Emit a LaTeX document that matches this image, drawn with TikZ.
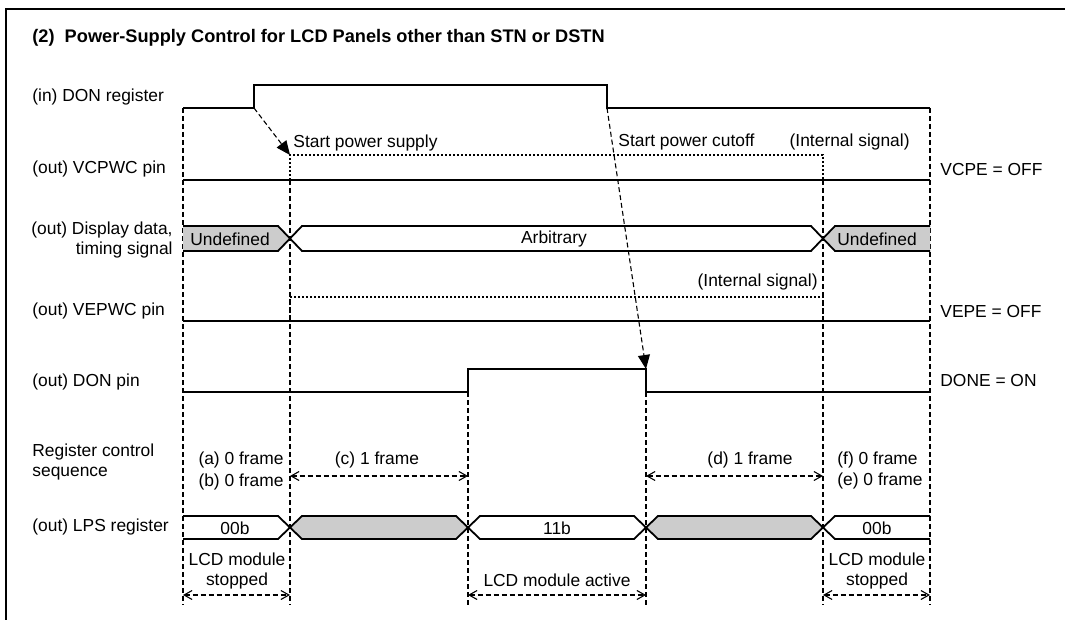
\documentclass[tikz,border=0pt]{standalone}
\usepackage{fontspec}
\setmainfont{Liberation Sans}
\usetikzlibrary{arrows.meta}
\definecolor{busgray}{HTML}{CCCCCC}

\begin{document}
\begin{tikzpicture}[x=0.5pt, y=-0.5pt,
  lbl/.style={font=\fontsize{8.7}{10}\selectfont, inner sep=0pt},
  sig/.style={line width=0.9pt, line join=miter},
  guide/.style={line width=0.55pt, dash pattern=on 2.5pt off 1.5pt},
  intsig/.style={line width=1.2pt, dash pattern=on 1pt off 1pt},
  cause/.style={guide, -{Triangle[length=7pt, width=6pt]}},
  span/.style={guide, {Straight Barb[length=4pt, width=4.5pt]}-{Straight Barb[length=4pt, width=4.5pt]}},
  frameline/.style={line width=1pt}]
  \useasboundingbox (0,0) rectangle (1065,620);
  \draw[frameline] (6,620) -- (6,9) -- (1065,9);

  % title and row names
  \node[lbl, anchor=west, font=\fontsize{9.1}{10}\selectfont\bfseries] (title) at (32,38) {(2)\ \ Power-Supply Control for LCD Panels other than STN or DSTN};
  \node[lbl, anchor=west] (rdonreg) at (32,97) {(in) DON register};
  \node[lbl, anchor=west] (rvcpwc) at (32,169) {(out) VCPWC pin};
  \node[lbl, anchor=east, align=right] (rdisp) at (173,240) {(out) Display data,\\timing signal};
  \node[lbl, anchor=west] (rvepwc) at (32,311) {(out) VEPWC pin};
  \node[lbl, anchor=west] (rdonpin) at (32,382) {(out) DON pin};
  \node[lbl, anchor=west, align=left] (rseq) at (32,462) {Register control\\sequence};
  \node[lbl, anchor=west] (rlps) at (32,527) {(out) LPS register};

  % states at the right
  \node[lbl, anchor=west] (vcpe) at (940,170) {VCPE = OFF};
  \node[lbl, anchor=west] (vepe) at (940,312) {VEPE = OFF};
  \node[lbl, anchor=west] (done) at (940,381) {DONE = ON};

  % timing guides
  \draw[guide] (183,108) -- (183,605);
  \draw[guide] (290,180) -- (290,605);
  \draw[guide] (468,392) -- (468,605);
  \draw[guide] (646,392) -- (646,605);
  \draw[guide] (823,180) -- (823,605);
  \draw[guide] (930,108) -- (930,605);

  % DON register
  \coordinate (donup) at (254,108);
  \coordinate (dondown) at (607,108);
  \draw[sig] (183,108) -- (donup) -- (254,85) -- (607,85) -- (dondown) -- (930,108);

  % VCPWC pin
  \coordinate (vcpon) at (290,155);
  \draw[sig] (183,180) -- (930,180);
  \draw[intsig] (290,180) -- (vcpon) -- (823,155) -- (823,180);
  \node[lbl, anchor=west] (supply) at (293,143) {Start power supply};
  \node[lbl, anchor=west] (cutoff) at (618,142) {Start power cutoff};
  \node[lbl, anchor=east] (intvc) at (910,142) {(Internal signal)};

  % display data, timing signal
  \filldraw[sig, fill=busgray] (183,226) -- (278,226) -- (290,238.5) -- (278,251) -- (183,251);
  \draw[sig] (290,238.5) -- (302,226) -- (811,226) -- (823,238.5) -- (811,251) -- (302,251) -- cycle;
  \filldraw[sig, fill=busgray] (930,226) -- (835,226) -- (823,238.5) -- (835,251) -- (930,251);
  \node[lbl, anchor=west] (undefl) at (190,239) {Undefined};
  \node[lbl] (arb) at (554,239) {Arbitrary};
  \node[lbl, anchor=west] (undefr) at (837,239) {Undefined};

  % VEPWC pin
  \draw[sig] (183,321) -- (930,321);
  \draw[intsig] (290,321) -- (290,297) -- (823,297) -- (823,321);
  \node[lbl, anchor=east] (intve) at (818,282) {(Internal signal)};

  % DON pin
  \coordinate (donpinoff) at (646,369);
  \draw[sig] (183,392) -- (468,392) -- (468,369) -- (donpinoff) -- (646,392) -- (930,392);

  % cause arrows
  \draw[cause] (donup) -- (vcpon);
  \draw[cause] (dondown) -- (donpinoff);

  % register control sequence
  \node[lbl, anchor=east] (seqa) at (284,460) {(a) 0 frame};
  \node[lbl, anchor=east] (seqb) at (284,482) {(b) 0 frame};
  \node[lbl] (seqc) at (377,460) {(c) 1 frame};
  \node[lbl] (seqd) at (750,460) {(d) 1 frame};
  \node[lbl, anchor=west] (seqf) at (837,460) {(f) 0 frame};
  \node[lbl, anchor=west] (seqe) at (837,481) {(e) 0 frame};
  \coordinate (c0) at (290,476);
  \coordinate (c1) at (468,476);
  \coordinate (d0) at (646,476);
  \coordinate (d1) at (823,476);
  \draw[span] (c0) -- (c1);
  \draw[span] (d0) -- (d1);

  % LPS register
  \draw[sig] (183,516) -- (278,516) -- (290,527.5) -- (278,539) -- (183,539);
  \filldraw[sig, fill=busgray] (290,527.5) -- (302,516) -- (456,516) -- (468,527.5) -- (456,539) -- (302,539) -- cycle;
  \draw[sig] (468,527.5) -- (480,516) -- (634,516) -- (646,527.5) -- (634,539) -- (480,539) -- cycle;
  \filldraw[sig, fill=busgray] (646,527.5) -- (658,516) -- (811,516) -- (823,527.5) -- (811,539) -- (658,539) -- cycle;
  \draw[sig] (930,516) -- (835,516) -- (823,527.5) -- (835,539) -- (930,539);
  \node[lbl] (lps0) at (235,528) {00b};
  \node[lbl] (lps1) at (557,528) {11b};
  \node[lbl] (lps2) at (877,528) {00b};

  % LCD module state
  \node[lbl, align=center] (stopl) at (237,571) {LCD module\\stopped};
  \node[lbl] (active) at (557,580) {LCD module active};
  \node[lbl, align=center] (stopr) at (877,571) {LCD module\\stopped};
  \coordinate (s0) at (183,595);
  \coordinate (s1) at (290,595);
  \coordinate (s2) at (468,595);
  \coordinate (s3) at (646,595);
  \coordinate (s4) at (823,595);
  \coordinate (s5) at (930,595);
  \draw[span] (s0) -- (s1);
  \draw[span] (s2) -- (s3);
  \draw[span] (s4) -- (s5);
\end{tikzpicture}
\end{document}
